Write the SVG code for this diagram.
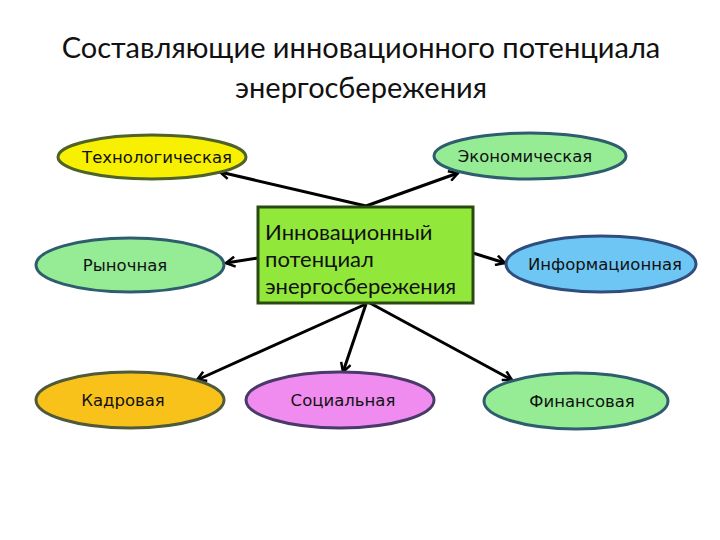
<svg xmlns="http://www.w3.org/2000/svg" width="720" height="540" viewBox="0 0 720 540">
<defs>
<marker id="arr" markerWidth="12" markerHeight="12" refX="10" refY="6" orient="auto" markerUnits="userSpaceOnUse">
<path d="M1,1 L10,6 L1,11" fill="none" stroke="#000" stroke-width="2.5"/>
</marker>
<style>
.title{font-family:Lato,"Liberation Sans",sans-serif;font-size:29px;fill:#111;text-anchor:middle}
.lbl{font-family:"DejaVu Sans",sans-serif;font-size:16.5px;fill:#111;text-anchor:middle}
.ctr{font-family:Lato,"Liberation Sans",sans-serif;font-size:22px;fill:#111}
.el{stroke-width:3}
.con{stroke:#000;stroke-width:3;fill:none;marker-end:url(#arr)}
</style>
</defs>
<rect width="720" height="540" fill="#fff"/>
<text class="title" x="361" y="58">Составляющие инновационного потенциала</text>
<text class="title" x="361" y="98">энергосбережения</text>
<g id="connectors">
<line class="con" x1="366" y1="206" x2="220" y2="172"/>
<line class="con" x1="366" y1="206" x2="458" y2="173"/>
<line class="con" x1="258" y1="258" x2="226" y2="263"/>
<line class="con" x1="473" y1="253" x2="505" y2="263"/>
<line class="con" x1="366" y1="304" x2="197" y2="380"/>
<line class="con" x1="366" y1="304" x2="343" y2="372"/>
<line class="con" x1="368" y1="302" x2="512" y2="380"/>
</g>
<g id="center">
<rect x="258" y="207" width="215" height="96" fill="#92E83A" stroke="#2B4A12" stroke-width="3"/>
<text class="ctr" x="265" y="240">Инновационный</text>
<text class="ctr" x="265" y="267">потенциал</text>
<text class="ctr" x="265" y="294">энергосбережения</text>
</g>
<g id="tech">
<ellipse class="el" cx="152" cy="157" rx="94" ry="22" fill="#F7F000" stroke="#4F6228"/>
<text class="lbl" x="157" y="163">Технологическая</text>
</g>
<g id="econ">
<ellipse class="el" cx="530" cy="156" rx="96" ry="23" fill="#95EC95" stroke="#2E5E6E"/>
<text class="lbl" x="525" y="162">Экономическая</text>
</g>
<g id="market">
<ellipse class="el" cx="130" cy="265" rx="94" ry="27" fill="#95EC95" stroke="#2E5E6E"/>
<text class="lbl" x="125" y="271">Рыночная</text>
</g>
<g id="info">
<ellipse class="el" cx="601" cy="264" rx="95" ry="28" fill="#6EC6F5" stroke="#2E4E7E"/>
<text class="lbl" x="605" y="270">Информационная</text>
</g>
<g id="personnel">
<ellipse class="el" cx="130" cy="400" rx="94" ry="28" fill="#F9C21A" stroke="#4F5A3A"/>
<text class="lbl" x="123" y="406">Кадровая</text>
</g>
<g id="social">
<ellipse class="el" cx="340" cy="400" rx="94" ry="28" fill="#F08CF0" stroke="#4A3A6A"/>
<text class="lbl" x="343" y="406">Социальная</text>
</g>
<g id="finance">
<ellipse class="el" cx="576" cy="401" rx="92" ry="28" fill="#95EC95" stroke="#2E5E6E"/>
<text class="lbl" x="582" y="407">Финансовая</text>
</g>
</svg>
